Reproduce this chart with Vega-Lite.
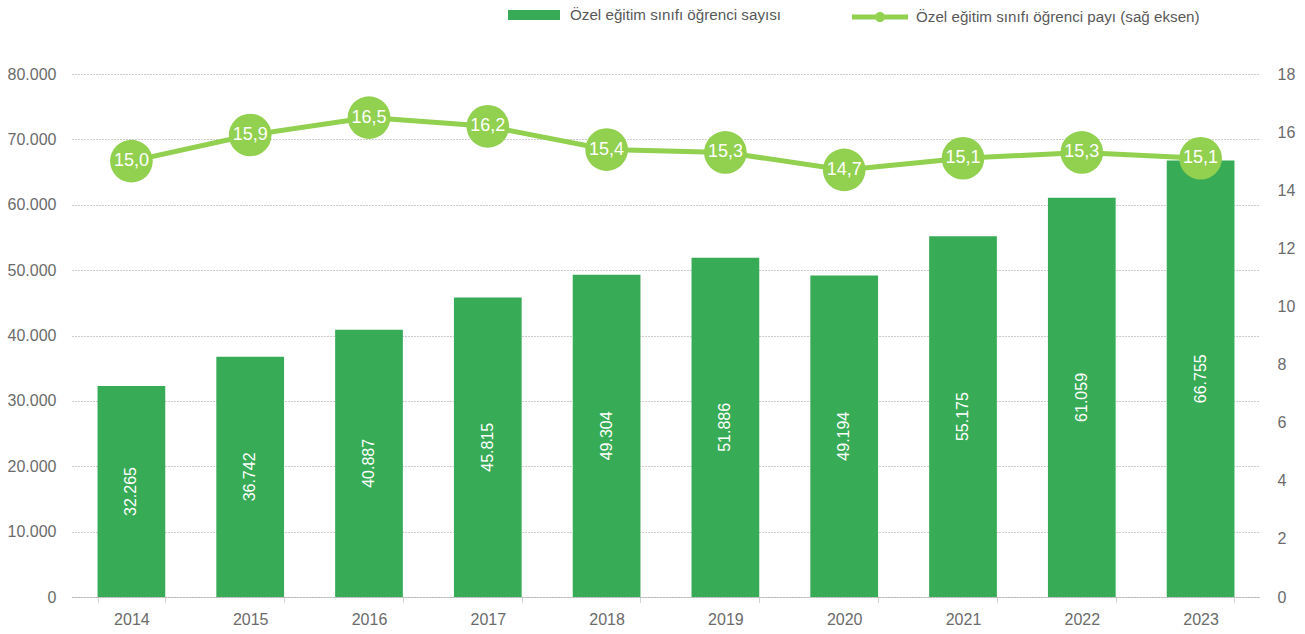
{
  "$schema": "https://vega.github.io/schema/vega-lite/v6.json",
  "width": 1188,
  "height": 523,
  "autosize": {"type": "none"},
  "padding": {"left": 72, "top": 74, "right": 45, "bottom": 37},
  "background": "white",
  "config": {
    "locale": {"number": {"decimal": ",", "thousands": ".", "grouping": [3], "currency": ["", " TL"]}},
    "font": "Liberation Sans",
    "view": {"stroke": null},
    "axis": {"labelFont": "Liberation Sans", "labelFontSize": 16, "labelColor": "#6b6b6b", "title": null}
  },
  "data": {"values": [
    {"year": "2014", "count": 32265, "share": 15.0},
    {"year": "2015", "count": 36742, "share": 15.9},
    {"year": "2016", "count": 40887, "share": 16.5},
    {"year": "2017", "count": 45815, "share": 16.2},
    {"year": "2018", "count": 49304, "share": 15.4},
    {"year": "2019", "count": 51886, "share": 15.3},
    {"year": "2020", "count": 49194, "share": 14.7},
    {"year": "2021", "count": 55175, "share": 15.1},
    {"year": "2022", "count": 61059, "share": 15.3},
    {"year": "2023", "count": 66755, "share": 15.1}
  ]},
  "encoding": {
    "x": {
      "field": "year", "type": "ordinal",
      "scale": {"paddingInner": 0.43, "paddingOuter": 0.215},
      "axis": {
        "labelAngle": 0, "labelPadding": 9, "tickSize": 5, "tickBand": "extent",
        "domainColor": "#a6a6a6", "domainDash": [1, 1], "tickColor": "#a6a6a6", "tickDash": [1, 1], "grid": false
      }
    }
  },
  "layer": [
    {
      "encoding": {
        "y": {
          "field": "count", "type": "quantitative",
          "scale": {"domain": [0, 80000], "nice": false},
          "axis": {
            "values": [0, 10000, 20000, 30000, 40000, 50000, 60000, 70000, 80000],
            "format": ",d", "ticks": false, "domain": false, "labelPadding": 16,
            "grid": true, "gridColor": "#999999", "gridDash": [1, 2], "gridWidth": 1
          }
        }
      },
      "layer": [
        {
          "mark": {"type": "bar", "color": "#37ab55"},
          "encoding": {
            "fill": {
              "datum": "Özel eğitim sınıfı öğrenci sayısı", "type": "nominal",
              "scale": {"range": ["#37ab55"]},
              "legend": {
                "orient": "none", "legendX": 436, "legendY": -85, "title": null,
                "symbolType": "M-1,-0.19H1V0.19H-1Z", "symbolSize": 2704, "symbolStrokeWidth": 0,
                "labelFontSize": 15.2, "labelColor": "#595959", "labelFont": "Liberation Sans", "labelOffset": 10, "labelLimit": 500
              }
            }
          }
        },
        {
          "transform": [{"calculate": "datum.count / 2", "as": "mid"}],
          "mark": {"type": "text", "angle": 270, "color": "white", "fontSize": 16, "align": "center", "baseline": "middle"},
          "encoding": {
            "y": {"field": "mid", "type": "quantitative"},
            "text": {"field": "count", "type": "quantitative", "format": ",d"}
          }
        }
      ]
    },
    {
      "encoding": {
        "y": {
          "field": "share", "type": "quantitative",
          "scale": {"domain": [0, 18], "nice": false},
          "axis": {
            "orient": "right", "values": [0, 2, 4, 6, 8, 10, 12, 14, 16, 18],
            "format": "d", "ticks": false, "domain": false, "grid": false, "labelPadding": 17
          }
        }
      },
      "layer": [
        {
          "mark": {"type": "line", "color": "#92d050", "strokeWidth": 5},
          "encoding": {
            "stroke": {
              "datum": "Özel eğitim sınıfı öğrenci payı (sağ eksen)", "type": "nominal",
              "scale": {"range": ["#92d050"]},
              "legend": {
                "orient": "none", "legendX": 780, "legendY": -85, "title": null,
                "symbolType": "M-1,-0.09H1V0.09H-1Z M-0.18,0A0.18,0.18 0 1,1 0.18,0A0.18,0.18 0 1,1 -0.18,0Z",
                "symbolSize": 3136, "symbolStrokeWidth": 0, "symbolFillColor": "#92d050",
                "labelFontSize": 15.2, "labelColor": "#595959", "labelFont": "Liberation Sans", "labelOffset": 8, "labelLimit": 500,
                "encode": {"symbols": {"update": {"fill": {"value": "#92d050"}, "strokeWidth": {"value": 0}}}}
              }
            }
          }
        },
        {
          "mark": {"type": "circle", "color": "#92d050", "opacity": 1, "size": 1820}
        },
        {
          "mark": {"type": "text", "color": "white", "fontSize": 18, "align": "center", "baseline": "middle"},
          "encoding": {
            "text": {"field": "share", "type": "quantitative", "format": ".1f"}
          }
        }
      ]
    }
  ],
  "resolve": {"scale": {"y": "independent"}}
}
